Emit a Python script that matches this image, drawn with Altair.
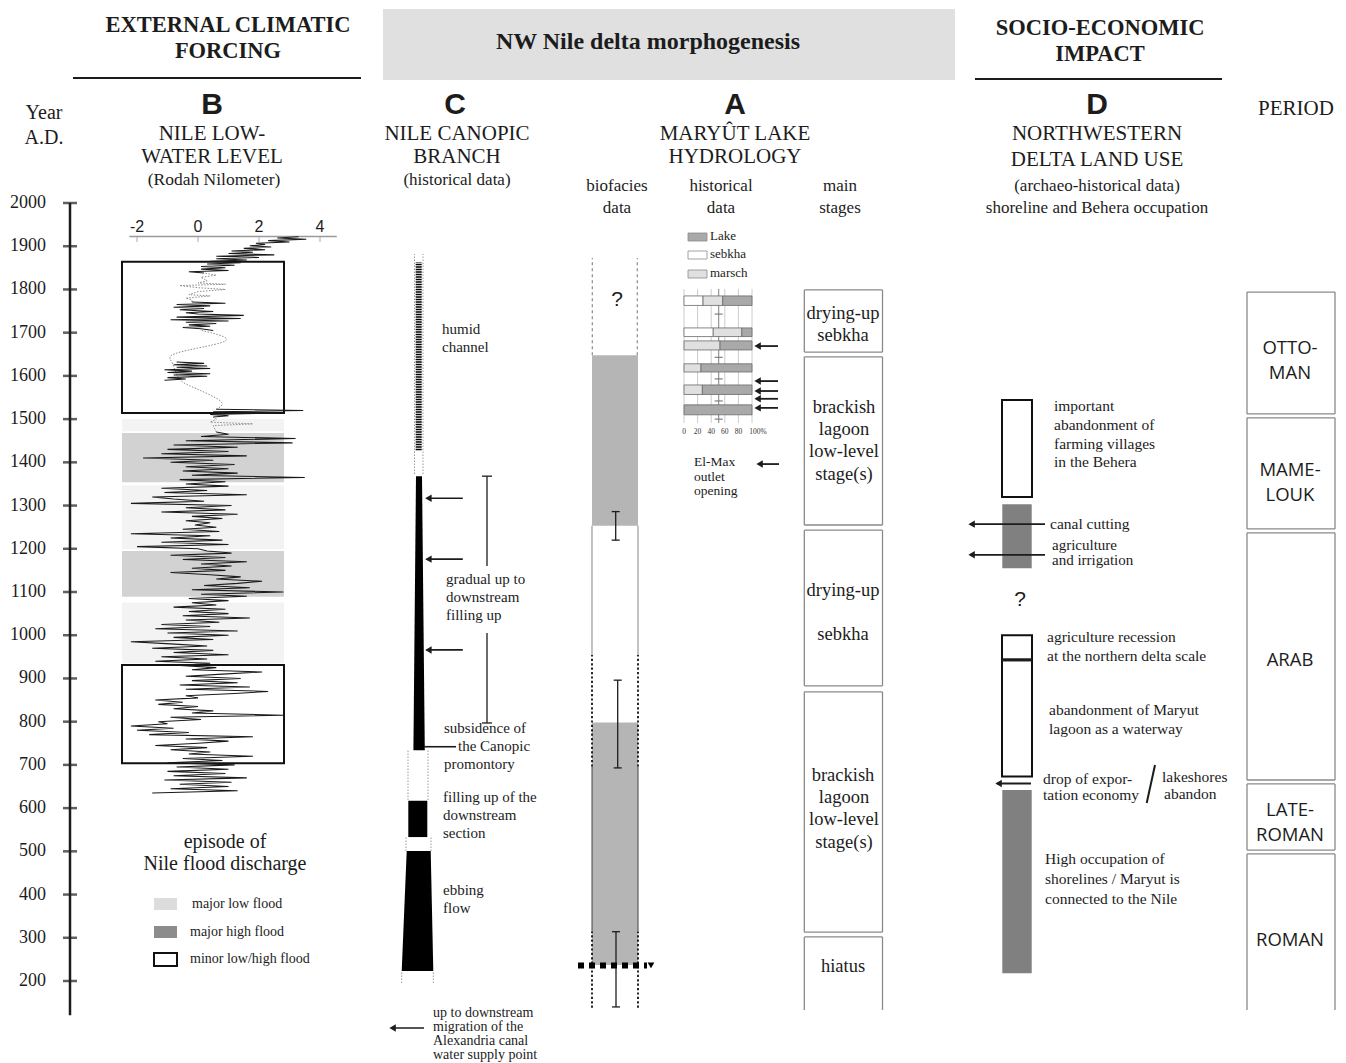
import altair as alt
import pandas as pd

W, H = 1330, 1054
PX_PER_YEAR = 0.43222


def yr(p):
    """row of the reference page (px) -> year on the shared vertical time scale"""
    return 200 + (981 - p) / PX_PER_YEAR


SERIF = "Liberation Serif"
SANS = "Liberation Sans"
PSANS = "Open Sans"
INK = "#1c1c1c"

# ------------------------------------------------------------------ data
YEAR_TICKS = [200, 300, 400, 500, 600, 700, 800, 900, 1000, 1100, 1200,
              1300, 1400, 1500, 1600, 1700, 1800, 1900, 2000]

# Rodah Nilometer low-water level (anomaly)
NILO_S1_YEARS = list(range(635, 1471, 5))
NILO_S1 = [-1.5, 1.3, -0.9, 1.0, -0.6, 1.1, -1.1, 1.6, -0.8, 0.9, -1.0, 1.0, -0.7, 1.2,
           -1.0, 0.8, -0.5, 1.8, -0.3, 0.4, -0.9, 0.3, -1.4, 0.0, 1.0, -0.4, 1.8, -1.6,
           -0.3, -2.0, -0.8, -2.2, -1.0,
           -1.3, 0.1, -0.9, 2.8, -0.2, 0.5, -0.8, 0.0, -1.3, -0.5, -1.4, 0.0, -0.4, 1.2,
           2.3, -0.4, 1.7, -0.6, 1.3, -0.2, 1.4, -0.4, 0.8, 2.1, -0.2,
           0.6, -0.6, 0.4, -1.4, 0.3, -1.2, 1.0, -0.8, 0.5, -1.5, 0.3, -0.9, -2.2, 0.5,
           -0.8, 1.0, -1.0, 1.3, -1.4, 0.4, -1.2, 0.7, -0.4, 1.7, -0.5, 1.0, -0.3, 0.9,
           -0.8, 0.6,
           -0.2, 1.0, -0.3, 1.6, 0.1, 2.8, -0.2, 1.7, 0.2, 1.3, 2.1, 0.6, 1.4, 0.4, -0.9,
           0.9, -0.2, 1.1, 0.1, 1.6, -0.5, 0.9, -0.9, 1.1, 0.3,
           0.0, -2.0, 1.0, -1.2, 0.8, -0.9, 0.4, -2.2, 0.7, -0.5, 0.6, -0.1, 0.4, -0.4,
           0.8, -0.2, 1.3, -1.2, 0.9, -0.4, 1.1, -2.2, 0.2, -0.8, -1.5, 1.6, -1.1, 0.3,
           -1.2, 1.0,
           -0.4, 0.9, -0.6, 3.5, -0.2, 1.3, -0.5, 1.0, -0.4, 1.2, -0.9, 0.5, -1.8, 1.6,
           -1.2, 1.0, -1.0, 1.3, -0.8, 3.1, -0.4, 3.2, 0.1, 1.0, 0.6]
NILO_S2_YEARS = [1505, 1508, 1511, 1514, 1517, 1520, 1523]
NILO_S2 = [0.5, 1.0, 0.4, 2.8, 0.5, 3.45, 0.6]
NILO_S3_YEARS = list(range(1590, 1633, 3))
NILO_S3 = [-1.1, -0.4, -1.0, 0.3, -0.8, 0.4, -1.0, -0.2, -1.1, 0.4, -0.7, 0.3, -0.8, 0.2, -0.7]
NILO_S4_YEARS = [1705, 1709, 1712, 1715, 1718, 1721, 1724, 1727, 1730, 1733, 1736,
                 1740, 1743, 1746, 1749, 1753, 1756, 1759, 1762, 1765, 1768, 1771]
NILO_S4 = [0.5, 0.1, -0.5, 0.4, -0.3, 0.6, -0.4, 1.0, -0.9, 1.4, -0.7,
           1.5, 0.0, -0.4, 0.5, -0.6, 0.2, -0.8, 0.4, -0.7, 0.9, -0.2]
NILO_S5_YEARS = list(range(1838, 1923, 3))
NILO_S5 = [0.2, -0.3, 1.0, 0.1, 0.9, 0.1, 1.2, 0.3, 1.4, 0.4, 1.6, 0.6, 2.0, 0.6, 2.5,
           1.0, 1.8, 1.1, 2.2, 1.5, 2.4, 1.7, 2.2, 1.9, 3.0, 2.3, 3.55, 2.6, 3.3]
# reconstructed (dotted) parts
NILO_SMOOTH_YEARS = [1523, 1537, 1560, 1575, 1590, 1632, 1648, 1664, 1681, 1695, 1706]
NILO_SMOOTH = [0.6, 0.95, 0.28, -0.2, -0.7, -0.8, -1.08, -0.05, 1.16, 0.73, 0.07]
NILO_GAP1_YEARS = [1470, 1485, 1489, 1493, 1500, 1505]
NILO_GAP1 = [0.6, 0.5, 1.8, 0.4, 0.6, 0.5]
NILO_GAP2_YEARS = [1771, 1776, 1780, 1785, 1788, 1795, 1800, 1804, 1809, 1812, 1815,
                   1820, 1828, 1833, 1838]
NILO_GAP2 = [-0.2, -0.2, -0.4, 0.4, -0.3, 0.0, 0.9, 0.0, -0.6, 0.9, 0.0, 0.3, 0.1, 0.6, 0.2]
NILO_TICKS = [-2, 0, 2, 4]

# flood episodes (year ranges)
LOW_FLOOD = [(1472, 1500), (1199, 1347), (935, 1076)]
HIGH_FLOOD = [(1354, 1468), (1089, 1195)]
MINOR_FLOOD = [(1514, 1864), (704, 931)]

# Canopic branch
HUMID_CHANNEL = (1428, 1863)
FILLING_TOP, FILLING_BOTTOM = 1368, 734
FILL_BLOCK = (533, 617)
EBBING_TOP, EBBING_BOTTOM = 501, 223
CANOPIC_ARROWS = [1317, 1176, 966]
GRADUAL = [(1160, 1368), (797, 1005)]
SUBSIDENCE = 742

# Maryut biofacies
BIO_LAGOON = [(1253, 1648), (237, 798)]
BIO_ERR = [(1220, 1286), (693, 896), (140, 314)]
HIATUS_YEAR = 236

# Maryut historical data (stacked %)
HIST_ROWS = [(1763, 1785), (1691, 1711), (1660, 1681), (1609, 1628), (1557, 1579), (1510, 1533)]
HIST_SEBKHA = [28, 43, 0, 0, 0, 0]
HIST_MARSCH = [29, 42, 53, 25, 27, 0]
HIST_LAKE = [43, 15, 47, 75, 73, 100]
HIST_TICK_YEARS = [1743, 1693, 1643, 1593, 1542, 1500]
HIST_ARROWS = [1669, 1588, 1565, 1547, 1526]
ELMAX_YEAR = 1396
PCT_TICKS = [0, 20, 40, 60, 80, 100]

# main stages / periods
STAGES = [(1655, 1799), (1255, 1644), (883, 1243), (313, 869)]
HIATUS_BOX = (133, 302)
PERIODS = [(1512, 1794), (1246, 1503), (665, 1237), (503, 656)]
ROMAN_BOX = (133, 494)

# land use
ABANDON_BOX = (1320, 1544)
CANAL = (1155, 1303)
LAND_ARROWS = [1257, 1186]
RECESSION_BOX = (673, 1000)
RECESSION_LINE = 943
EXPORT_ARROW = 657
HIGH_OCC = (218, 642)

# ------------------------------------------------------------------ scales
XS = alt.Scale(domain=[8, 8 + W], nice=False, zero=False)
YS = alt.Scale(domain=[yr(8 + H), yr(8)], nice=False, zero=False)
NS = alt.Scale(domain=[(8 - 198) / 30.5, (8 + W - 198) / 30.5], nice=False, zero=False)
PS = alt.Scale(domain=[(8 - 684) / 0.68, (8 + W - 684) / 0.68], nice=False, zero=False)


def Y(f):
    return alt.Y(f, type="quantitative", scale=YS, axis=None)


def Xf(f, scale=XS):
    return alt.X(f, type="quantitative", scale=scale, axis=None)


def rules(rows, color=INK, width=1.0, dash=None, scale=XS):
    df = pd.DataFrame(rows, columns=["x1", "y1", "x2", "y2"])
    kw = dict(color=color, strokeWidth=width)
    if dash:
        kw["strokeDash"] = dash
    return alt.Chart(df).mark_rule(**kw).encode(
        x=Xf("x1", scale), x2="x2:Q", y=Y("y1"), y2="y2:Q")


def rects(rows, fill, stroke=None, width=0.0, opacity=1.0, scale=XS):
    df = pd.DataFrame(rows, columns=["x1", "x2", "y1", "y2"])
    kw = dict(fill=fill, fillOpacity=opacity, strokeWidth=width)
    if stroke:
        kw["stroke"] = stroke
    return alt.Chart(df).mark_rect(**kw).encode(
        x=Xf("x1", scale), x2="x2:Q", y=Y("y1"), y2="y2:Q")


def texts(rows, font, weight="normal", align="left", color=INK):
    df = pd.DataFrame(rows, columns=["t", "x", "p", "s"])
    df["y"] = [yr(p) for p in df["p"]]
    return alt.Chart(df).mark_text(font=font, fontWeight=weight, align=align,
                                   baseline="middle", color=color).encode(
        x=Xf("x"), y=Y("y"), text="t:N",
        size=alt.Size("s:Q", scale=None, legend=None))


def tick_labels(values, labels, fixed, scale, font, size, align, vertical=True,
                color=INK, dx=0):
    """labels of an axis, placed through the scales"""
    if vertical:   # values along the time axis
        df = pd.DataFrame({"y": values, "x": [fixed] * len(values), "t": labels})
    else:          # values along a horizontal scale
        df = pd.DataFrame({"x": values, "y": [fixed] * len(values), "t": labels})
    return alt.Chart(df).mark_text(font=font, fontSize=size, align=align, baseline="middle",
                                   color=color, dx=dx).encode(
        text="t:N", x=Xf("x", scale), y=Y("y"))


def arrows(rows, width=1.6, size=55):
    # rows: (year, x_tail, x_tip)
    shafts = rules([(t, y, tip + 2, y) for y, t, tip in rows], width=width)
    df = pd.DataFrame([(tip + 3.6, y) for y, t, tip in rows], columns=["x", "y"])
    heads = alt.Chart(df).mark_point(shape="triangle-left", filled=True, size=size,
                                     color=INK, opacity=1).encode(x=Xf("x"), y=Y("y"))
    return [shafts, heads]


def errbars(rows):
    out = []
    for x, a, b in rows:
        out += [(x, a, x, b), (x - 4, a, x + 4, a), (x - 4, b, x + 4, b)]
    return rules(out, width=1.3)


def open_boxes(rows, x1, x2, color="#8a8a8a", width=1.3):
    segs = []
    for lo, hi, closed in rows:
        segs += [(x1, lo, x1, hi), (x2, lo, x2, hi), (x1, hi, x2, hi)]
        if closed:
            segs.append((x1, lo, x2, lo))
    return rules(segs, color=color, width=width)


layers = []

# ---------------- header
layers.append(rects([(383, 955, yr(80), yr(9))], "#e0e0e0"))
layers.append(rules([(73, yr(78), 361, yr(78)), (975, yr(79), 1222, yr(79))], width=2))

# ---------------- year axis
layers.append(rules([(70, 121, 70, 2000)], width=2.5))
tick_df = pd.DataFrame({"x": [70] * len(YEAR_TICKS), "y": YEAR_TICKS})
layers.append(alt.Chart(tick_df).mark_tick(orient="horizontal", size=14, thickness=2.5,
                                           color=INK).encode(x=Xf("x"), y=Y("y")))
layers.append(tick_labels(YEAR_TICKS, [str(v) for v in YEAR_TICKS], 46, XS, SERIF, 18,
                          "right"))

# ---------------- B: flood episodes
layers.append(rects([(122, 284, a, b) for a, b in LOW_FLOOD], "#f3f3f3"))
layers.append(rects([(122, 284, a, b) for a, b in HIGH_FLOOD], "#d2d2d2"))
layers.append(rects([(122, 284, a, b) for a, b in MINOR_FLOOD], "white", stroke="#111",
                    width=2, opacity=0))
# legend of B
layers.append(rects([(154, 177, yr(910), yr(898))], "#dcdcdc"))
layers.append(rects([(154, 177, yr(938), yr(926))], "#8c8c8c"))
layers.append(rects([(154, 177, yr(966), yr(953))], "white", stroke="#111", width=2))

# ---------------- C: Canopic branch
layers.append(rules([(414.5, yr(474), 414.5, yr(254)), (423, yr(474), 423, yr(254)),
                     (408, yr(800), 408, yr(750)), (428, yr(800), 428, yr(750)),
                     (406, yr(851), 406, yr(836)), (431, yr(851), 431, yr(836)),
                     (401.7, yr(983), 401.7, yr(971)), (433.3, yr(983), 433.3, yr(971))],
                    color="#9a9a9a", width=1, dash=[1.5, 1.5]))
layers.append(rules([(418.7, HUMID_CHANNEL[0], 418.7, HUMID_CHANNEL[1])],
                    color="#000", width=6, dash=[1.4, 1.1]))
wedge = pd.DataFrame({"y": [FILLING_TOP, FILLING_BOTTOM], "l": [416.0, 413.4], "r": [422.0, 424.8]})
layers.append(alt.Chart(wedge).mark_area(orient="horizontal", color="#000").encode(
    y=Y("y"), x=Xf("l"), x2="r:Q"))
ebb = pd.DataFrame({"y": [EBBING_TOP, EBBING_BOTTOM], "l": [406.7, 401.7], "r": [430.7, 433.3]})
layers.append(alt.Chart(ebb).mark_area(orient="horizontal", color="#000").encode(
    y=Y("y"), x=Xf("l"), x2="r:Q"))
layers.append(rects([(408.3, 427.3, FILL_BLOCK[0], FILL_BLOCK[1])], "#000"))
layers += arrows([(y, 462.8, 424.8) for y in CANOPIC_ARROWS])
br = []
for lo, hi in GRADUAL:
    br += [(487, lo, 487, hi)]
br += [(482, GRADUAL[0][1], 492, GRADUAL[0][1]), (482, GRADUAL[1][0], 492, GRADUAL[1][0])]
layers.append(rules(br, width=1.3))
layers.append(rules([(424, SUBSIDENCE, 456, SUBSIDENCE)], width=1.6))
layers += arrows([(yr(1028), 424, 389)])

# ---------------- A: biofacies column
layers.append(rules([(592.3, 1648, 592.3, 1873), (637.3, 1648, 637.3, 1873)],
                    color="#8a8a8a", width=1.2, dash=[3, 3]))
layers.append(rects([(592, 638, a, b) for a, b in BIO_LAGOON], "#b5b5b5"))
layers.append(rules([(592, 954, 592, 1253), (638, 954, 638, 1253)], color="#9a9a9a", width=1.2))
layers.append(rules([(592, 310, 592, 696), (638, 310, 638, 696)], color="#444", width=1))
layers.append(rules([(592, 696, 592, 954), (638, 696, 638, 954),
                     (592, 138, 592, 314), (638, 138, 638, 314)],
                    color="#111", width=1.8, dash=[2.2, 2.2]))
layers.append(errbars([(615.7, BIO_ERR[0][0], BIO_ERR[0][1]), (617.7, BIO_ERR[1][0], BIO_ERR[1][1]),
                       (616, BIO_ERR[2][0], BIO_ERR[2][1])]))
layers.append(rules([(578, HIATUS_YEAR, 647, HIATUS_YEAR)], color="#000", width=6, dash=[6, 5]))
tri = pd.DataFrame({"x": [651], "y": [HIATUS_YEAR]})
layers.append(alt.Chart(tri).mark_point(shape="triangle-down", filled=True, size=45,
                                        color="#000", opacity=1).encode(x=Xf("x"), y=Y("y")))

# historical-data legend swatches
sw = pd.DataFrame({"x1": [688] * 3, "x2": [707] * 3,
                   "y1": [yr(241), yr(259), yr(278)], "y2": [yr(233), yr(251), yr(270)],
                   "c": ["Lake", "sebkha", "marsch"]})
CAT_SCALE = alt.Scale(domain=["Lake", "sebkha", "marsch"], range=["#a9a9a9", "#ffffff", "#e0e0e0"])
layers.append(alt.Chart(sw).mark_rect(stroke="#8a8a8a", strokeWidth=0.8).encode(
    x=Xf("x1"), x2="x2:Q", y=Y("y1"), y2="y2:Q",
    fill=alt.Fill("c:N", scale=CAT_SCALE, legend=None)))
layers += arrows([(y, 778, 754) for y in HIST_ARROWS], width=1.8)
layers += arrows([(ELMAX_YEAR, 779, 756)], width=1.8)

# ---------------- main stages and periods
layers.append(open_boxes([(lo, hi, True) for lo, hi in STAGES] + [(HIATUS_BOX[0], HIATUS_BOX[1], False)],
                         804.3, 882.5))
layers.append(open_boxes([(lo, hi, True) for lo, hi in PERIODS] + [(ROMAN_BOX[0], ROMAN_BOX[1], False)],
                         1247, 1335))

# ---------------- D: land use
layers.append(rects([(1002, 1032, ABANDON_BOX[0], ABANDON_BOX[1]),
                     (1002, 1032, RECESSION_BOX[0], RECESSION_BOX[1])],
                    "white", stroke="#111", width=2))
layers.append(rects([(1002.3, 1031.7, CANAL[0], CANAL[1]),
                     (1002.3, 1031.7, HIGH_OCC[0], HIGH_OCC[1])], "#808080"))
layers.append(rules([(1002, RECESSION_LINE, 1032, RECESSION_LINE)], width=3.2))
layers += arrows([(y, 1045, 968) for y in LAND_ARROWS], width=1.8)
layers += arrows([(EXPORT_ARROW, 1031, 995)], width=1.8)
layers.append(rules([(1146.7, yr(803), 1155, yr(765))], width=2))

# ---------------- texts
HB = [("EXTERNAL CLIMATIC", 228, 25, 22.5), ("FORCING", 228, 51, 22.5),
      ("NW Nile delta morphogenesis", 648, 42, 24),
      ("SOCIO-ECONOMIC", 1100, 28, 22.5), ("IMPACT", 1100, 54, 22.5)]
LETTERS = [("B", 212, 105, 30), ("C", 455, 105, 30), ("A", 735, 105, 30), ("D", 1097, 105, 30)]
SC = [("Year", 44, 113, 20), ("A.D.", 44, 138, 20), ("PERIOD", 1296, 109, 21),
      ("NILE LOW-", 212, 134, 21), ("WATER LEVEL", 212, 157, 21), ("(Rodah Nilometer)", 214, 180, 17.5),
      ("NILE CANOPIC", 457, 134, 21), ("BRANCH", 457, 157, 21), ("(historical data)", 457, 180, 17),
      ("MARYÛT LAKE", 735, 134, 21), ("HYDROLOGY", 735, 157, 21),
      ("biofacies", 617, 186, 17), ("data", 617, 208, 17),
      ("historical", 721, 186, 17), ("data", 721, 208, 17),
      ("main", 840, 186, 17), ("stages", 840, 208, 17),
      ("NORTHWESTERN", 1097, 134, 21), ("DELTA LAND USE", 1097, 160, 21),
      ("(archaeo-historical data)", 1097, 186, 17), ("shoreline and Behera occupation", 1097, 208, 17),
      ("episode of", 225, 842, 20), ("Nile flood discharge", 225, 864, 20),
      ("drying-up", 843, 313, 18.5), ("sebkha", 843, 335, 18.5),
      ("brackish", 844, 407, 18.5), ("lagoon", 844, 429, 18.5), ("low-level", 844, 451, 18.5),
      ("stage(s)", 844, 474, 18.5),
      ("drying-up", 843, 590, 18.5), ("sebkha", 843, 634, 18.5),
      ("brackish", 843, 775, 18.5), ("lagoon", 844, 797, 18.5), ("low-level", 844, 819, 18.5),
      ("stage(s)", 844, 842, 18.5), ("hiatus", 843, 966, 18.5)]
SL = [("major low flood", 192, 904, 14), ("major high flood", 190, 932, 14),
      ("minor low/high flood", 190, 959, 14),
      ("humid", 442, 329, 15), ("channel", 442, 347, 15),
      ("gradual up to", 446, 579, 15), ("downstream", 446, 597, 15), ("filling up", 446, 615, 15),
      ("subsidence of", 444, 728, 15), ("the Canopic", 458, 746, 15), ("promontory", 444, 764, 15),
      ("filling up of the", 443, 797, 15), ("downstream", 443, 815, 15), ("section", 443, 833, 15),
      ("ebbing", 443, 890, 15), ("flow", 443, 908, 15),
      ("up to downstream", 433, 1013, 14), ("migration of the", 433, 1027, 14),
      ("Alexandria canal", 433, 1041, 14), ("water supply point", 433, 1055, 14),
      ("Lake", 710, 236, 13), ("sebkha", 710, 254, 13), ("marsch", 710, 273, 13),
      ("El-Max", 694, 462, 13.5), ("outlet", 694, 477, 13.5), ("opening", 694, 491, 13.5),
      ("important", 1054, 406, 15.5), ("abandonment of", 1054, 425, 15.5),
      ("farming villages", 1054, 444, 15.5), ("in the Behera", 1054, 462, 15.5),
      ("canal cutting", 1050, 524, 15.5), ("agriculture", 1052, 545, 15),
      ("and irrigation", 1052, 560, 15),
      ("agriculture recession", 1047, 637, 15.5), ("at the northern delta scale", 1047, 656, 15.5),
      ("abandonment of Maryut", 1049, 710, 15.5), ("lagoon as a waterway", 1049, 729, 15.5),
      ("drop of expor-", 1043, 779, 15.5), ("tation economy", 1043, 795, 15.5),
      ("lakeshores", 1162, 777, 15.5), ("abandon", 1164, 794, 15.5),
      ("High occupation of", 1045, 859, 15.5), ("shorelines / Maryut is", 1045, 879, 15.5),
      ("connected to the Nile", 1045, 899, 15.5)]
PC = [("OTTO-", 1290, 348, 18.5), ("MAN", 1290, 373, 18.5), ("MAME-", 1290, 470, 18.5),
      ("LOUK", 1290, 495, 18.5), ("ARAB", 1290, 660, 18.5), ("LATE-", 1290, 810, 18.5),
      ("ROMAN", 1290, 835, 18.5), ("ROMAN", 1290, 940, 18.5)]
QM = [("?", 617, 300, 21), ("?", 1020, 600, 21)]

layers.append(texts(HB, SERIF, weight="bold", align="center"))
layers.append(texts(LETTERS, SANS, weight="bold", align="center"))
layers.append(texts(SC, SERIF, align="center"))
layers.append(texts(SL, SERIF, align="left"))
layers.append(texts(PC, PSANS, align="center"))
layers.append(texts(QM, SANS, align="center"))

page = alt.layer(*layers)

# ---------------- Nilometer group (own horizontal scale)
segs = [("s1", NILO_S1_YEARS, NILO_S1), ("s2", NILO_S2_YEARS, NILO_S2),
        ("s3", NILO_S3_YEARS, NILO_S3), ("s4", NILO_S4_YEARS, NILO_S4),
        ("s5", NILO_S5_YEARS, NILO_S5)]
nilo_df = pd.concat([pd.DataFrame({"yr": ys, "v": vs, "seg": s}) for s, ys, vs in segs])
nilo_line = alt.Chart(nilo_df).mark_line(color="#1a1a1a", strokeWidth=1.05).encode(
    x=Xf("v", NS), y=Y("yr"), order="yr:Q", detail="seg:N")
smooth_df = pd.DataFrame({"yr": NILO_SMOOTH_YEARS, "v": NILO_SMOOTH})
nilo_smooth = alt.Chart(smooth_df).mark_line(color="#8a8a8a", strokeWidth=1, strokeDash=[1.5, 1.5],
                                             interpolate="basis").encode(
    x=Xf("v", NS), y=Y("yr"), order="yr:Q")
gap_df = pd.concat([pd.DataFrame({"yr": NILO_GAP1_YEARS, "v": NILO_GAP1, "seg": "g1"}),
                    pd.DataFrame({"yr": NILO_GAP2_YEARS, "v": NILO_GAP2, "seg": "g2"})])
nilo_gap = alt.Chart(gap_df).mark_line(color="#8a8a8a", strokeWidth=1, strokeDash=[1.5, 1.5]).encode(
    x=Xf("v", NS), y=Y("yr"), order="yr:Q", detail="seg:N")
nilo_axis = rules([(-2.25, yr(236.5), 4.55, yr(236.5))], color="#9a9a9a", width=1.3, scale=NS)
nilo_ticks = rules([(t, yr(237), t, yr(242)) for t in NILO_TICKS], color="#aaaaaa", width=1, scale=NS)
nilo_labels = tick_labels(NILO_TICKS, [str(t) for t in NILO_TICKS], yr(226.5), NS, SANS, 16,
                          "center", vertical=False)
nilo = alt.layer(nilo_axis, nilo_ticks, nilo_labels, nilo_smooth, nilo_gap, nilo_line)

# ---------------- Maryut historical-data mini chart (own % scale)
grid = rules([(p, yr(423), p, yr(289)) for p in PCT_TICKS], color="#cccccc", width=1, scale=PS)
center = rules([(51, yr(423), 51, yr(289))], color="#8a8a8a", width=1.1, scale=PS)
hticks = rules([(45, y, 57, y) for y in HIST_TICK_YEARS], color="#777777", width=1.1, scale=PS)
bars = []
for (lo, hi), s, m, l in zip(HIST_ROWS, HIST_SEBKHA, HIST_MARSCH, HIST_LAKE):
    x = 0
    for c, w in (("sebkha", s), ("marsch", m), ("Lake", l)):
        if w > 0:
            bars.append({"x1": x, "x2": x + w, "y1": lo, "y2": hi, "c": c})
        x += w
bar_df = pd.DataFrame(bars)
hist_bars = alt.Chart(bar_df).mark_rect(stroke="#6a6a6a", strokeWidth=0.8).encode(
    x=Xf("x1", PS), x2="x2:Q", y=Y("y1"), y2="y2:Q",
    fill=alt.Fill("c:N", scale=CAT_SCALE, legend=None))
pct_labels = tick_labels(PCT_TICKS[:-1], [str(p) for p in PCT_TICKS[:-1]], yr(431.5), PS,
                         SERIF, 7.5, "center", vertical=False, color="#333")
pct_last = tick_labels(PCT_TICKS[-1:], [str(PCT_TICKS[-1]) + "%"], yr(431.5), PS,
                       SERIF, 7.5, "center", vertical=False, color="#333", dx=6)
pct = alt.layer(grid, center, hticks, hist_bars, pct_labels, pct_last)

chart = (alt.layer(page, nilo, pct)
         .resolve_scale(x="independent")
         .properties(width=W, height=H, padding=0, autosize=alt.AutoSizeParams(type="none"),
                     background="white")
         .configure_view(stroke=None))

chart.save("out.html", embed_options={"renderer": "svg", "actions": False})
